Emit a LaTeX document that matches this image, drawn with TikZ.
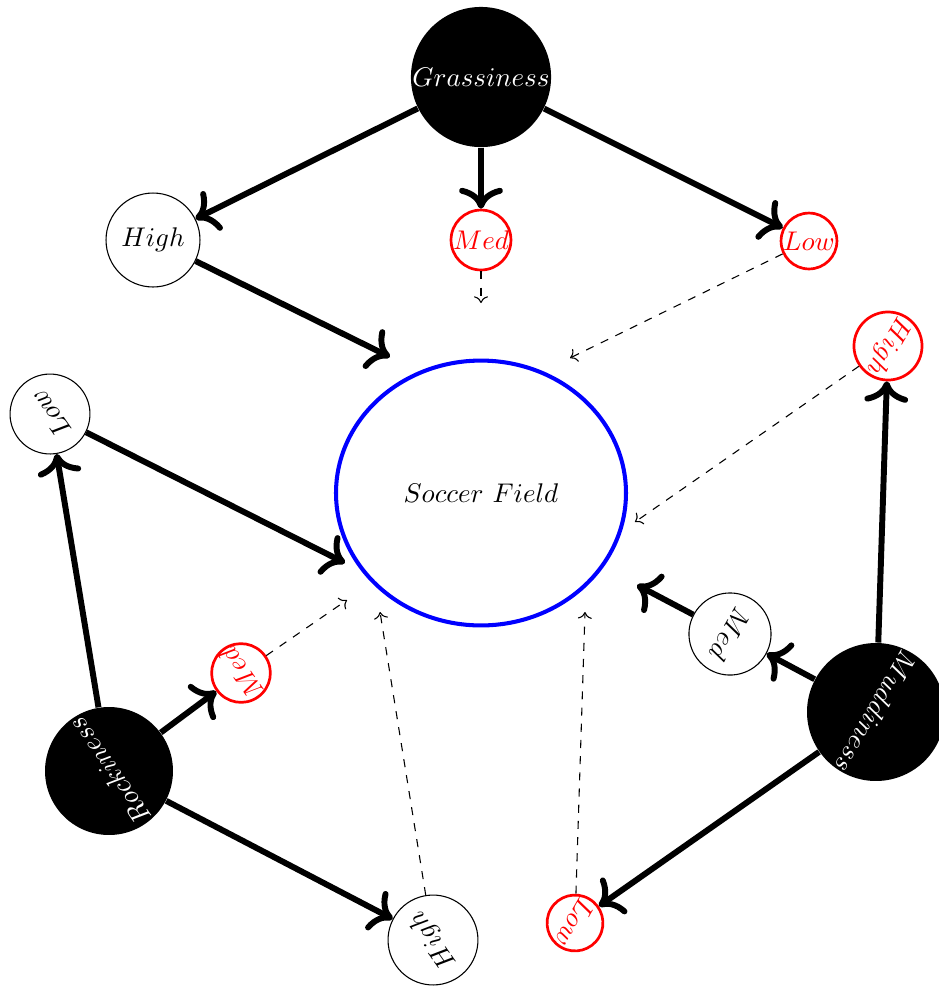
\documentclass[tikz,border=0pt]{standalone}
\usetikzlibrary{shapes.geometric,arrows.meta}
\begin{document}
\begin{tikzpicture}[x=0.37037pt, y=0.37037pt,
  parent/.style={circle, fill=black, text=white, inner sep=0pt},
  chosen/.style={circle, draw=black, inner sep=0pt},
  other/.style={circle, draw=red, text=red, line width=1pt, inner sep=0pt},
  fieldnode/.style={ellipse, draw=blue, line width=1.5pt, minimum width=107.4pt, minimum height=98.1pt},
  big/.style={-{To[scale=1.2]}, line width=2.2pt},
  weak/.style={->, dashed}]
\useasboundingbox (0,0) rectangle (938,-987);

% field
\node[fieldnode] (field) at (481,-493) {$Soccer\ Field$};

% Grassiness group
\node[parent, minimum size=51.9pt] (grass) at (481,-77) {$Grassiness$};
\node[chosen, minimum size=34.8pt] (ghigh) at (153,-240) {$High$};
\node[other, minimum size=22.2pt] (gmed) at (481,-240) {$Med$};
\node[other, minimum size=20.7pt] (glow) at (809,-241) {$Low$};

% Rockiness group
\node[parent, minimum size=47.4pt, rotate=125] (rock) at (109,-771) {$Rockiness$};
\node[chosen, minimum size=29.6pt, rotate=125] (rlow) at (50,-414) {$Low$};
\node[other, minimum size=21.5pt, rotate=125] (rmed) at (241,-673) {$Med$};
\node[chosen, minimum size=33.3pt, rotate=125] (rhigh) at (433,-940) {$High$};

% Muddiness group
\node[parent, minimum size=51.1pt, rotate=-120] (mud) at (876,-712) {$Muddiness$};
\node[other, minimum size=25.2pt, rotate=-120] (mhigh) at (888,-346) {$High$};
\node[chosen, minimum size=30.4pt, rotate=-120] (mmed) at (730,-634) {$Med$};
\node[other, minimum size=20.7pt, rotate=-120] (mlow) at (575,-923) {$Low$};

% free ends near the field
\coordinate (eghigh) at (390,-357);
\coordinate (egmed) at (481,-303);
\coordinate (eglow) at (570,-358);
\coordinate (erlow) at (345,-563);
\coordinate (ermed) at (347,-600);
\coordinate (erhigh) at (380,-612);
\coordinate (emhigh) at (635,-522);
\coordinate (emmed) at (637,-585);
\coordinate (emlow) at (585,-612);

% Grassiness arrows
\draw[big] (grass) -- (ghigh);
\draw[big] (grass) -- (gmed);
\draw[big] (grass) -- (glow);
\draw[big] (ghigh) -- (eghigh);
\draw[weak] (gmed) -- (egmed);
\draw[weak] (glow) -- (eglow);

% Rockiness arrows
\draw[big] (rock) -- (rlow);
\draw[big] (rock) -- (rmed);
\draw[big] (rock) -- (rhigh);
\draw[big] (rlow) -- (erlow);
\draw[weak] (rmed) -- (ermed);
\draw[weak] (rhigh) -- (erhigh);

% Muddiness arrows
\draw[big] (mud) -- (mhigh);
\draw[big] (mud) -- (mmed);
\draw[big] (mud) -- (mlow);
\draw[weak] (mhigh) -- (emhigh);
\draw[big] (mmed) -- (emmed);
\draw[weak] (mlow) -- (emlow);
\end{tikzpicture}
\end{document}
